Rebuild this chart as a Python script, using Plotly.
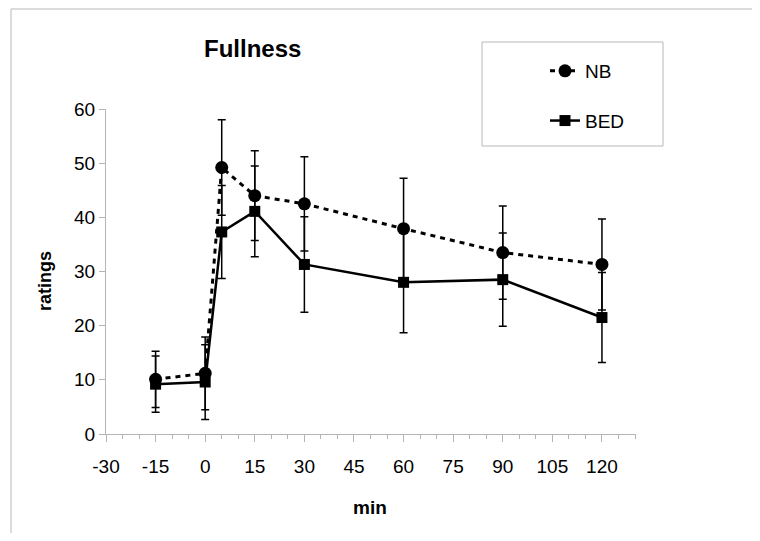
import plotly.graph_objects as go

minutes = [-15, 0, 5, 15, 30, 60, 90, 120]
nb = [10.1, 11.2, 49.2, 44.0, 42.5, 37.9, 33.5, 31.3]
nb_err = [5.2, 6.7, 8.8, 8.3, 8.7, 9.3, 8.6, 8.4]
bed = [9.2, 9.6, 37.3, 41.1, 31.3, 28.0, 28.5, 21.5]
bed_err = [5.2, 6.9, 8.6, 8.4, 8.8, 9.3, 8.6, 8.3]

x_ticks = [-30, -15, 0, 15, 30, 45, 60, 75, 90, 105, 120]
x_labels = ["-30", "-15", "0", "15", "30", "45", "60", "75", "90", "105", "120"]
y_ticks = [0, 10, 20, 30, 40, 50, 60]

FONT = "Liberation Sans, Arial, sans-serif"

# the page body has an 8px margin; figure is sized so the plot sits where the reference does
PL, PT, PW, PH = 98, 101, 530, 325
W, H = 744, 525

def px(x):  # screen x -> paper x
    return (x - 8 - PL) / PW

def py(y):  # screen y -> paper y
    return (PT + PH - (y - 8)) / PH

fig = go.Figure()
fig.add_trace(go.Scatter(
    x=minutes, y=nb, name="NB", mode="lines+markers", legendgroup="a",
    line=dict(color="black", width=3, dash="5px,5px"),
    marker=dict(symbol="circle", size=13, color="black"),
    error_y=dict(type="data", array=nb_err, visible=True, color="black", thickness=1.5, width=4),
))
fig.add_trace(go.Scatter(
    x=minutes, y=bed, name="BED", mode="lines+markers", legendgroup="b",
    line=dict(color="black", width=2.5),
    marker=dict(symbol="square", size=11, color="black"),
    error_y=dict(type="data", array=bed_err, visible=True, color="black", thickness=1.5, width=4),
))

fig.update_layout(
    width=W, height=H,
    margin=dict(l=PL, r=W - PL - PW, t=PT, b=H - PT - PH),
    paper_bgcolor="white", plot_bgcolor="white",
    font=dict(family=FONT, size=19, color="black"),
    showlegend=True,
    legend=dict(x=px(545), y=py(52), xanchor="left", yanchor="top",
                font=dict(size=19, family=FONT), tracegroupgap=22,
                bgcolor="rgba(0,0,0,0)", borderwidth=0),
    xaxis=dict(range=[-30, 130.3], tickvals=x_ticks, ticktext=x_labels,
               showgrid=False, zeroline=False,
               showline=True, linecolor="#b4b4b4", linewidth=1,
               ticks="outside", ticklen=7, tickcolor="#b4b4b4",
               tickfont=dict(size=19, family=FONT), ticklabelstandoff=8,
               minor=dict(dtick=5, tick0=0, ticks="outside", ticklen=4, tickcolor="#b4b4b4")),
    yaxis=dict(range=[0, 60], tickvals=y_ticks, showgrid=False, zeroline=False,
               showline=True, linecolor="#b4b4b4", linewidth=1,
               ticks="outside", ticklen=6, tickcolor="#b4b4b4",
               tickfont=dict(size=19, family=FONT)),
    shapes=[
        dict(type="line", xref="paper", yref="paper",
             x0=px(11), x1=px(760), y0=py(9), y1=py(9),
             line=dict(color="#cfcfcf", width=1.5), layer="below"),
        dict(type="line", xref="paper", yref="paper",
             x0=px(11), x1=px(11), y0=py(9), y1=py(541),
             line=dict(color="#cfcfcf", width=1.5), layer="below"),
        dict(type="rect", xref="paper", yref="paper",
             x0=px(482), x1=px(663), y0=py(146), y1=py(42),
             line=dict(color="#b8b8b8", width=1), fillcolor="rgba(0,0,0,0)"),
    ],
    annotations=[
        dict(text="<b>Fullness</b>", xref="paper", yref="paper",
             x=px(252), y=py(48), xanchor="center", yanchor="middle",
             showarrow=False, font=dict(size=24, family=FONT)),
        dict(text="<b>ratings</b>", xref="paper", yref="paper",
             x=px(45), y=py(281), xanchor="center", yanchor="middle",
             textangle=-90, showarrow=False, font=dict(size=18, family=FONT)),
        dict(text="<b>min</b>", xref="paper", yref="paper",
             x=px(370), y=py(507), xanchor="center", yanchor="middle",
             showarrow=False, font=dict(size=19, family=FONT)),
    ],
)

fig.write_html("out.html")
